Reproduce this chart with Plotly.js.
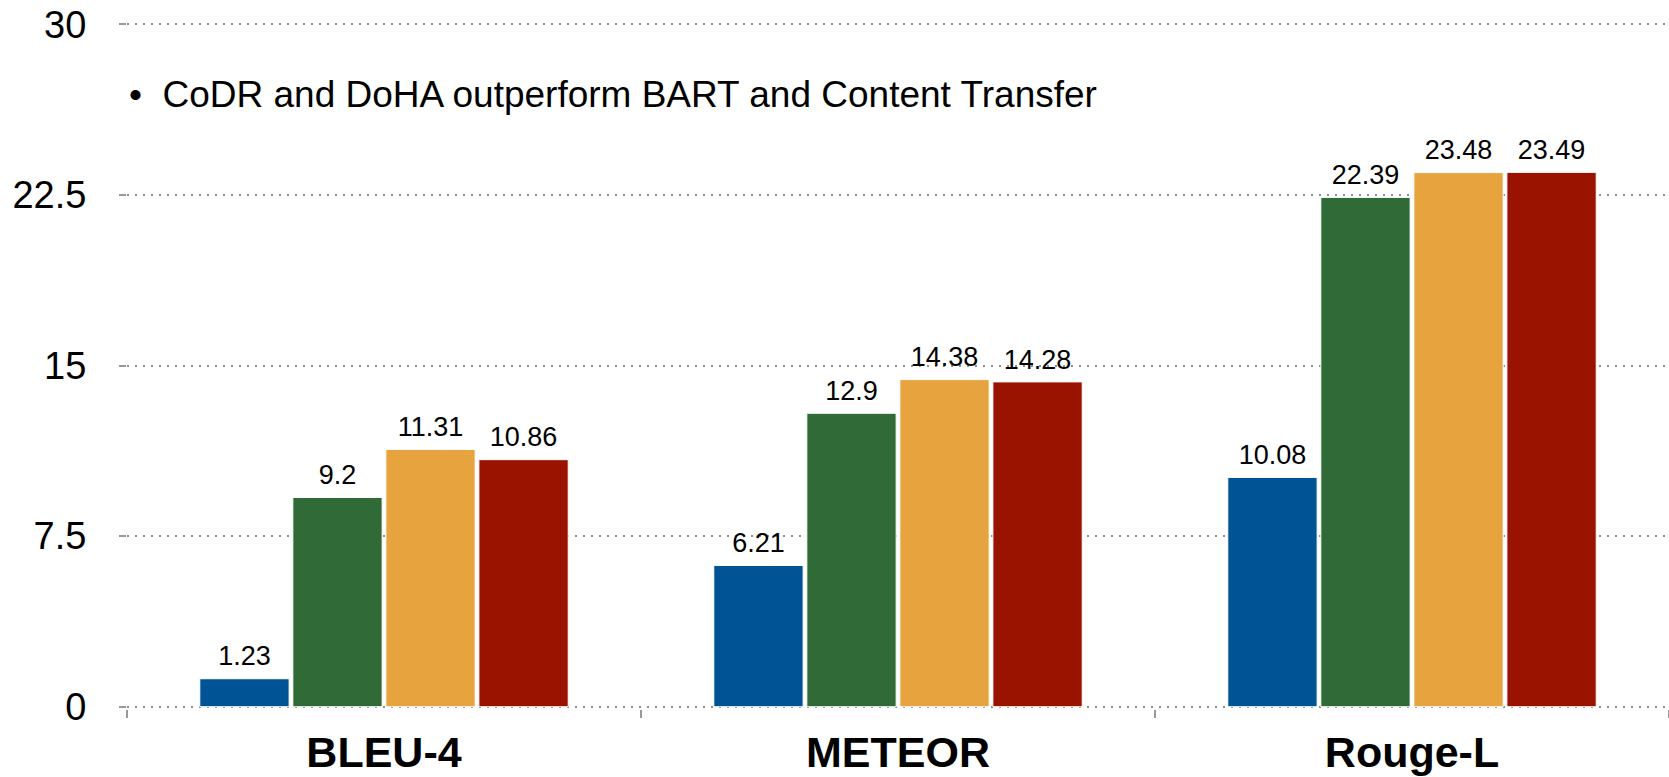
<!DOCTYPE html>
<html>
<head>
<meta charset="utf-8">
<script src="https://cdn.plot.ly/plotly-3.0.1.min.js"></script>
<style>
  html, body { margin: 0; padding: 0; background: #fff; }
  #chart { width: 1669px; height: 777px; }
</style>
</head>
<body>
<div id="chart"></div>
<script>
// metrics on the x axis
const metrics = ["BLEU-4", "METEOR", "Rouge-L"];

// one array per system
const contentTransfer = [1.23, 6.21, 10.08];
const bart = [9.2, 12.9, 22.39];
const codr = [11.31, 14.38, 23.48];
const doha = [10.86, 14.28, 23.49];

const seriesNames = ["Content Transfer", "BART", "CoDR", "DoHA"];
const seriesValues = [contentTransfer, bart, codr, doha];
const seriesColors = ["#005395", "#306A36", "#E7A33E", "#991300"];

const yTicks = [0, 7.5, 15, 22.5, 30];
const note = "•  CoDR and DoHA outperform BART and Content Transfer";

const baseFont = "Liberation Sans, Arial, sans-serif";

const bars = seriesValues.map((vals, i) => ({
  type: "bar",
  name: seriesNames[i],
  x: metrics,
  y: vals,
  marker: {color: seriesColors[i], line: {color: "#fff", width: 1}},
  hoverinfo: "x+y+name"
}));

// value labels: grouped scatter text so they sit a bit above each bar
const labels = seriesValues.map((vals, i) => ({
  type: "scatter",
  mode: "markers+text",
  name: seriesNames[i],
  x: metrics,
  y: vals,
  text: vals.map(String),
  textposition: "top center",
  cliponaxis: false,
  marker: {size: 9, opacity: 0},
  textfont: {family: baseFont, size: 27, color: "#000"},
  hoverinfo: "skip"
}));

const layout = {
  width: 1669,
  height: 777,
  margin: {l: 127, r: 0, t: 22, b: 68},
  paper_bgcolor: "#fff",
  plot_bgcolor: "#fff",
  showlegend: false,
  barmode: "group",
  scattermode: "group",
  bargap: 0.276,
  bargroupgap: 0.04,
  scattergap: 0.276,
  font: {family: baseFont, color: "#000"},
  xaxis: {
    range: [-0.5, 2.5],
    tickson: "boundaries",
    ticks: "outside",
    ticklen: 8,
    tickwidth: 2,
    tickcolor: "#999",
    showgrid: false,
    showline: false,
    zeroline: false,
    ticklabelstandoff: 14,
    tickfont: {family: baseFont, size: 43, color: "#000", weight: "bold"}
  },
  yaxis: {
    range: [-0.1, 30.1],
    tickvals: yTicks,
    ticktext: yTicks.map(String),
    ticks: "outside",
    ticklen: 7,
    tickwidth: 2,
    tickcolor: "#999",
    showgrid: true,
    gridcolor: "#8f8f8f",
    gridwidth: 2,
    griddash: "2px,6px",
    zeroline: false,
    showline: false,
    ticklabelstandoff: 25,
    tickfont: {family: baseFont, size: 38, color: "#000"}
  },
  annotations: [{
    xref: "paper", yref: "paper",
    x: 0, y: 0.895,
    xanchor: "left", yanchor: "middle",
    showarrow: false,
    text: note,
    font: {family: baseFont, size: 37, color: "#000"}
  }]
};

Plotly.newPlot("chart", bars.concat(labels), layout, {displayModeBar: false, staticPlot: true});
</script>
</body>
</html>
